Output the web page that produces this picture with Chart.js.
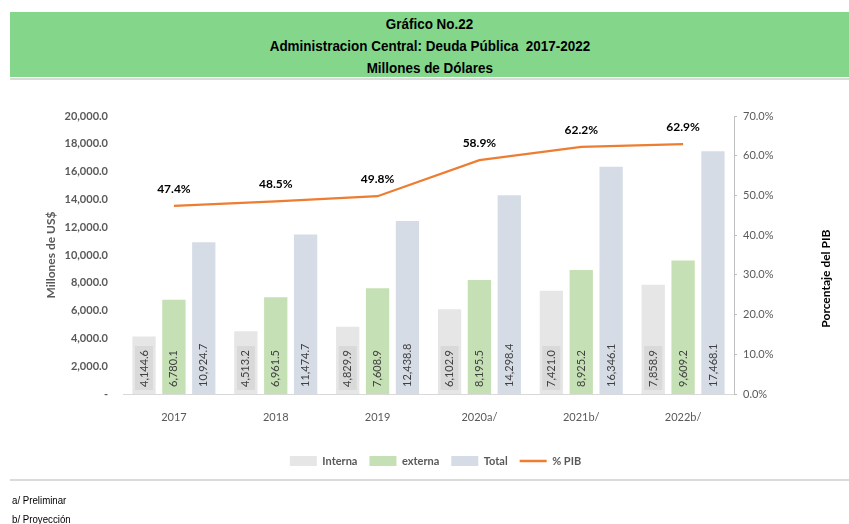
<!DOCTYPE html>
<html>
<head>
<meta charset="utf-8">
<script src="https://cdn.jsdelivr.net/npm/chart.js@4"></script>
<style>
  html, body { margin: 0; padding: 0; background: #fff; width: 849px; height: 524px; overflow: hidden; }
  body { position: relative; }
  #band {
    position: absolute; left: 10px; top: 12px; width: 839px; height: 65px;
    background: #84d78a; box-sizing: border-box; padding-top: 1px;
    font: bold 14px "Liberation Sans Narrow", "Arial Narrow", "Liberation Sans", sans-serif;
    line-height: 22px; text-align: center; color: #000;
  }
  #band span { display: inline-block; transform: scaleX(0.96); transform-origin: center; white-space: pre; }
  .rule { position: absolute; left: 10px; width: 839px; height: 2px; background: #dadada; }
  #wrap { position: absolute; left: 0; top: 80px; width: 849px; height: 420px; }
  #notes {
    position: absolute; left: 12px; top: 491px;
    font: 11px "Liberation Sans Narrow", "Arial Narrow", "Liberation Sans", sans-serif;
    line-height: 19px; color: #000;
  }
  #notes div { transform: scaleX(0.88); transform-origin: left; white-space: nowrap; }
</style>
</head>
<body>
<div id="band">
  <div><span>Gráfico No.22</span></div>
  <div><span>Administracion Central: Deuda Pública  2017-2022</span></div>
  <div><span>Millones de Dólares</span></div>
</div>
<div class="rule" style="top:78px"></div>
<div id="wrap"><canvas id="c"></canvas></div>
<div class="rule" style="top:479px"></div>
<div id="notes">
  <div>a/ Preliminar</div>
  <div>b/ Proyección</div>
</div>
<script>
// Years (a/ preliminary, b/ projected)
const categories = ['2017', '2018', '2019', '2020a/', '2021b/', '2022b/'];
// Debt in millions of US$
const interna = [4144.6, 4513.2, 4829.9, 6102.9, 7421.0, 7858.9];
const externa = [6780.1, 6961.5, 7608.9, 8195.5, 8925.2, 9609.2];
const total   = [10924.7, 11474.7, 12438.8, 14298.4, 16346.1, 17468.1];
// Debt as % of GDP
const pctPIB  = [47.4, 48.5, 49.8, 58.9, 62.2, 62.9];
// Axis ticks
const leftTicks  = [0, 2000, 4000, 6000, 8000, 10000, 12000, 14000, 16000, 18000, 20000];
const rightTicks = [0, 10, 20, 30, 40, 50, 60, 70];

const FONT = 'Lato, "Open Sans", sans-serif';
const GREY = '#595959';

const fmt1 = v => v.toLocaleString('en-US', { minimumFractionDigits: 1, maximumFractionDigits: 1 });

// Value labels inside the bars, line labels and the two axis titles
const overlay = {
  id: 'overlay',
  afterDatasetsDraw(chart) {
    const ctx = chart.ctx;
    [0, 1, 2].forEach(i => {
      const meta = chart.getDatasetMeta(i);
      const vals = chart.data.datasets[i].data;
      meta.data.forEach((bar, j) => {
        const txt = fmt1(vals[j]);
        ctx.save();
        ctx.translate(bar.x, bar.base - 7);
        ctx.rotate(-Math.PI / 2);
        ctx.font = '11px ' + FONT;
        const w = ctx.measureText(txt).width;
        if (i === 0) {
          ctx.fillStyle = '#d9d9d9';
          ctx.fillRect(-3, -9, w + 7, 18);
        }
        ctx.fillStyle = '#404040';
        ctx.textAlign = 'left';
        ctx.textBaseline = 'middle';
        ctx.fillText(txt, 0, 0);
        ctx.restore();
      });
    });

    const lineMeta = chart.getDatasetMeta(3);
    ctx.save();
    ctx.font = 'bold 12px ' + FONT;
    ctx.fillStyle = '#000';
    ctx.textAlign = 'center';
    ctx.textBaseline = 'middle';
    lineMeta.data.forEach((pt, j) => {
      ctx.fillText(pctPIB[j].toFixed(1) + '%', pt.x, pt.y - 17);
    });
    ctx.restore();

    const a = chart.chartArea;
    ctx.save();
    ctx.font = 'bold 12px ' + FONT;
    ctx.textAlign = 'center';
    ctx.textBaseline = 'middle';
    ctx.translate(51, (a.top + a.bottom) / 2);
    ctx.rotate(-Math.PI / 2);
    ctx.fillStyle = GREY;
    ctx.fillText('Millones de US$', 0, 0);
    ctx.restore();

    ctx.save();
    ctx.font = 'bold 12px ' + FONT;
    ctx.textAlign = 'center';
    ctx.textBaseline = 'middle';
    ctx.translate(826, a.top + (a.bottom - a.top) * 0.585);
    ctx.rotate(-Math.PI / 2);
    ctx.fillStyle = '#000';
    ctx.fillText('Porcentaje del PIB', 0, 0);
    ctx.restore();
  }
};

new Chart(document.getElementById('c'), {
  data: {
    labels: categories,
    datasets: [
      { type: 'bar', label: 'Interna', data: interna, backgroundColor: '#e7e6e6', yAxisID: 'y' },
      { type: 'bar', label: 'externa', data: externa, backgroundColor: '#c5e0b4', yAxisID: 'y' },
      { type: 'bar', label: 'Total', data: total, backgroundColor: '#d6dce5', yAxisID: 'y' },
      { type: 'line', label: '% PIB', data: pctPIB, borderColor: '#ed7d31', backgroundColor: '#ed7d31',
        borderWidth: 2.25, pointRadius: 0, tension: 0, yAxisID: 'y1' }
    ]
  },
  options: {
    responsive: true,
    maintainAspectRatio: false,
    animation: false,
    devicePixelRatio: 1,
    layout: { padding: { top: 36, left: 22, right: 0, bottom: 23.5 } },
    datasets: { bar: { categoryPercentage: 0.88, barPercentage: 0.78 } },
    plugins: {
      tooltip: { enabled: false },
      title: { display: false },
      legend: {
        position: 'bottom',
        labels: {
          usePointStyle: true,
          pointStyleWidth: 27,
          boxHeight: 10,
          padding: 12,
          color: GREY,
          font: { family: FONT, size: 11, weight: 'bold' },
          generateLabels: chart => chart.data.datasets.map((ds, i) => {
            const isLine = ds.type === 'line';
            return {
              text: ds.label,
              fillStyle: ds.backgroundColor,
              strokeStyle: isLine ? ds.borderColor : 'rgba(0,0,0,0)',
              lineWidth: isLine ? 2.5 : 0,
              pointStyle: isLine ? 'line' : 'rect',
              fontColor: GREY,
              hidden: false,
              datasetIndex: i
            };
          })
        }
      }
    },
    scales: {
      x: {
        grid: { display: false },
        border: { display: true, color: '#d9d9d9', width: 1 },
        ticks: { color: GREY, font: { family: FONT, size: 11 }, padding: 9, maxRotation: 0 },
        afterFit: s => { s.height = 49.5; }
      },
      y: {
        position: 'left',
        min: 0, max: 20000,
        afterBuildTicks: s => { s.ticks = leftTicks.map(v => ({ value: v })); },
        grid: { display: false, drawTicks: false },
        border: { display: false },
        ticks: {
          color: GREY, padding: 15,
          font: { family: FONT, size: 11, weight: 'bold' },
          callback: v => v === 0 ? '-' : fmt1(v)
        },
        afterFit: s => { s.width = 101; }
      },
      y1: {
        position: 'right',
        min: 0, max: 70,
        afterBuildTicks: s => { s.ticks = rightTicks.map(v => ({ value: v })); },
        grid: { drawOnChartArea: false, drawTicks: true, tickLength: 3, color: '#bfbfbf' },
        border: { display: true, color: '#bfbfbf', width: 1 },
        ticks: {
          color: GREY, padding: 6,
          font: { family: FONT, size: 11 },
          callback: v => v.toFixed(1) + '%'
        },
        afterFit: s => { s.width = 115; }
      }
    }
  },
  plugins: [overlay]
});
</script>
</body>
</html>
